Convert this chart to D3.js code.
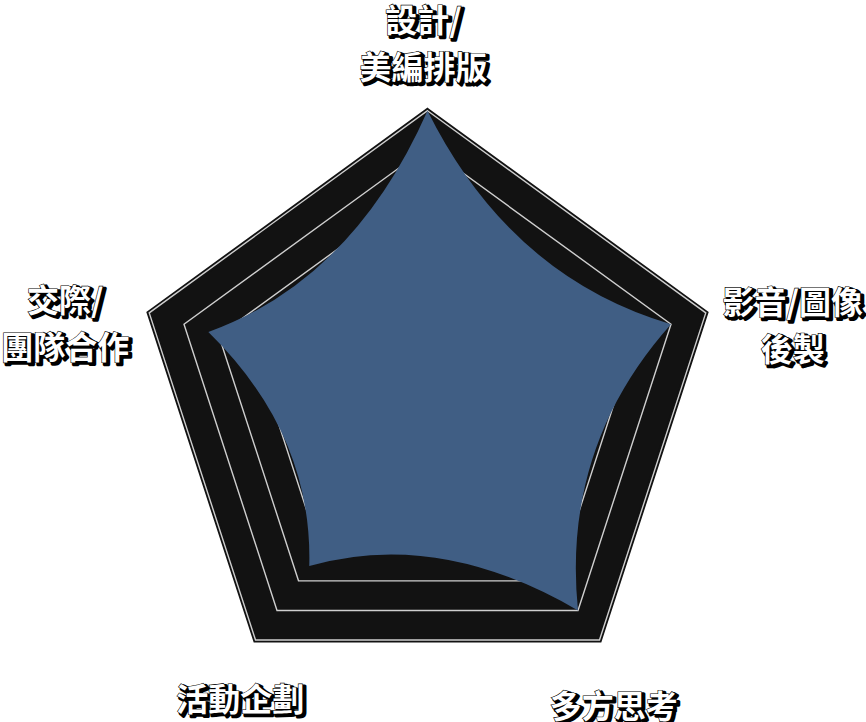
<!DOCTYPE html>
<html><head><meta charset="utf-8">
<script src="https://cdn.jsdelivr.net/npm/d3@7"></script>
<style>html,body{margin:0;padding:0;background:#fff;}svg{display:block;}</style>
</head><body>
<svg id="chart" width="866" height="722"></svg>
<script>
// ---- data ----
const axisLines = [["設計/", "美編排版"], ["影音/圖像", "後製"], ["多方思考"], ["活動企劃"], ["交際/", "團隊合作"]];
const values = [8, 7, 7, 5.5, 6.3];
const levelValues = [1, 2, 3, 4, 5, 6, 7, 8];
const maxValue = 8;

// ---- layout ----
const W = 866, H = 722;
const cx = 427.5, cy = 403.3, R = 292.6;
const n = axisLines.length;
const svg = d3.select("#chart");
const g = svg.append("g").attr("transform", `translate(${cx},${cy})`);
const r = d3.scaleLinear().domain([0, maxValue]).range([0, R]);
const ang = d3.scaleLinear().domain([0, n]).range([-Math.PI / 2, 1.5 * Math.PI]);
const pt = (i, v) => [Math.cos(ang(i)) * r(v), Math.sin(ang(i)) * r(v)];

const poly = v => d3.range(n).map(i => pt(i, v));
const lineClosed = d3.line().curve(d3.curveLinearClosed);

// black background
g.append("path").attr("d", lineClosed(poly(maxValue)))
  .attr("fill", "#121212").attr("stroke", "#121212").attr("stroke-width", 5).attr("stroke-linejoin", "miter");

// grid levels
g.selectAll(".lvl").data(levelValues).join("path")
  .attr("class", "lvl")
  .attr("d", v => lineClosed(poly(v)))
  .attr("fill", "none").attr("stroke", "#cfcfcf").attr("stroke-width", 1.4);

// data area with concave edges
const pts = values.map((v, i) => pt(i, v));
const k = 0.68;
const p = d3.path();
p.moveTo(pts[0][0], pts[0][1]);
for (let i = 0; i < n; i++) {
  const a = pts[i], b = pts[(i + 1) % n];
  const mx = (a[0] + b[0]) / 2 * k, my = (a[1] + b[1]) / 2 * k;
  p.quadraticCurveTo(mx, my, b[0], b[1]);
}
p.closePath();
g.append("path").attr("d", p.toString()).attr("fill", "#405e84");

// labels
const labelR = R * 1.28;
const nudge = [[-4, -11], [9, 12], [-34, -2], [33, -9], [-6, 10]];
const lineGap = 47;
const fontFam = "'Noto Sans CJK TC','Noto Sans CJK SC',sans-serif";
axisLines.forEach((lines, i) => {
  const x = Math.cos(ang(i)) * labelR + nudge[i][0];
  const y = Math.sin(ang(i)) * labelR + nudge[i][1];
  lines.forEach((t, j) => {
    const yy = y + j * lineGap;
    g.append("text").attr("x", x + 2.5).attr("y", yy + 2)
      .attr("text-anchor", "middle").attr("dominant-baseline", "central")
      .attr("font-family", fontFam).attr("font-weight", "bold").attr("font-size", 32)
      .attr("fill", "#000").attr("stroke", "#000").attr("stroke-width", 3.5).attr("stroke-linejoin", "round")
      .text(t);
    g.append("text").attr("x", x).attr("y", yy)
      .attr("text-anchor", "middle").attr("dominant-baseline", "central")
      .attr("font-family", fontFam).attr("font-weight", "bold").attr("font-size", 32)
      .attr("fill", "#fff").attr("stroke", "#000").attr("stroke-width", 1.2).attr("paint-order", "stroke")
      .text(t);
  });
});
</script>
</body></html>
